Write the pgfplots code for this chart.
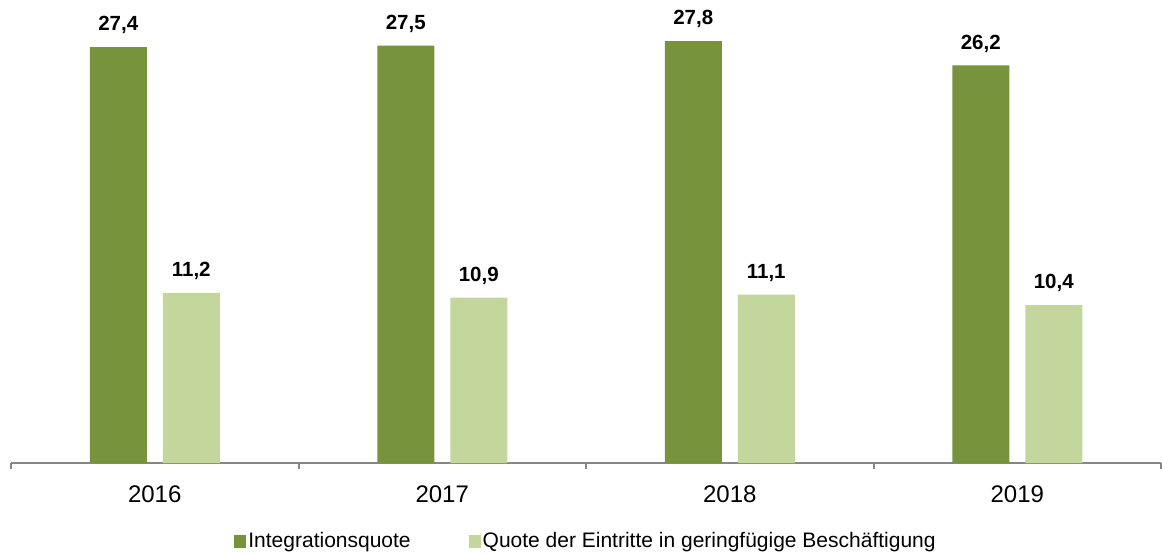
\documentclass[border=0pt]{standalone}
\usepackage{fontspec}
\setmainfont{Liberation Sans}
\usepackage{pgfplots}
\pgfplotsset{compat=1.18}
\definecolor{darkg}{HTML}{77933C}
\definecolor{lightg}{HTML}{C3D69B}
\definecolor{axgray}{HTML}{868686}
\begin{document}
\begin{tikzpicture}
\useasboundingbox (-5.5pt,-45.5pt) rectangle (575.5pt,231.5pt);
\begin{axis}[
  at={(0,0)}, anchor=south west,
  scale only axis,
  width=575pt, height=227.7pt,
  xmin=-0.5, xmax=3.5, ymin=0, ymax=30,
  axis x line=bottom, axis y line=none,
  x axis line style={-, draw=axgray, line width=1pt},
  xtick={0,1,2,3},
  xticklabels={2016,2017,2018,2019},
  major x tick style={draw=none},
  minor xtick={-0.5,0.5,1.5,2.5,3.5},
  minor x tick style={draw=axgray, line width=1pt},
  minor tick length=3pt,
  tick align=outside,
  xticklabel style={font=\fontsize{12}{14}\selectfont, yshift=-3.5pt},
  ybar=8pt, bar width=28.5pt,
  nodes near coords,
  nodes near coords style={font=\fontsize{10.25}{12}\selectfont\bfseries, text=black, anchor=south, yshift=3pt},
  /pgf/number format/use comma,
  /pgf/number format/fixed,
  /pgf/number format/fixed zerofill,
  /pgf/number format/precision=1,
  /pgf/number format/assume math mode=true,
  legend columns=2,
  legend style={at={(0.5,0)}, anchor=center, yshift=-39pt, draw=none,
    font=\fontsize{10.5}{12}\selectfont,
    /tikz/every even column/.append style={column sep=28pt},
    nodes={inner sep=1pt}},
  legend cell align=left,
]
\addplot[fill=darkg, draw=none,
  legend image code/.code={\fill[darkg] (0pt,-3.25pt) rectangle (6pt,3.25pt);}]
  coordinates {(0,27.4) (1,27.5) (2,27.8) (3,26.2)};
\addplot[fill=lightg, draw=none,
  legend image code/.code={\fill[lightg] (0pt,-3.25pt) rectangle (6pt,3.25pt);}]
  coordinates {(0,11.2) (1,10.9) (2,11.1) (3,10.4)};
\legend{Integrationsquote, Quote der Eintritte in geringfügige Beschäftigung}
\end{axis}
\end{tikzpicture}
\end{document}
